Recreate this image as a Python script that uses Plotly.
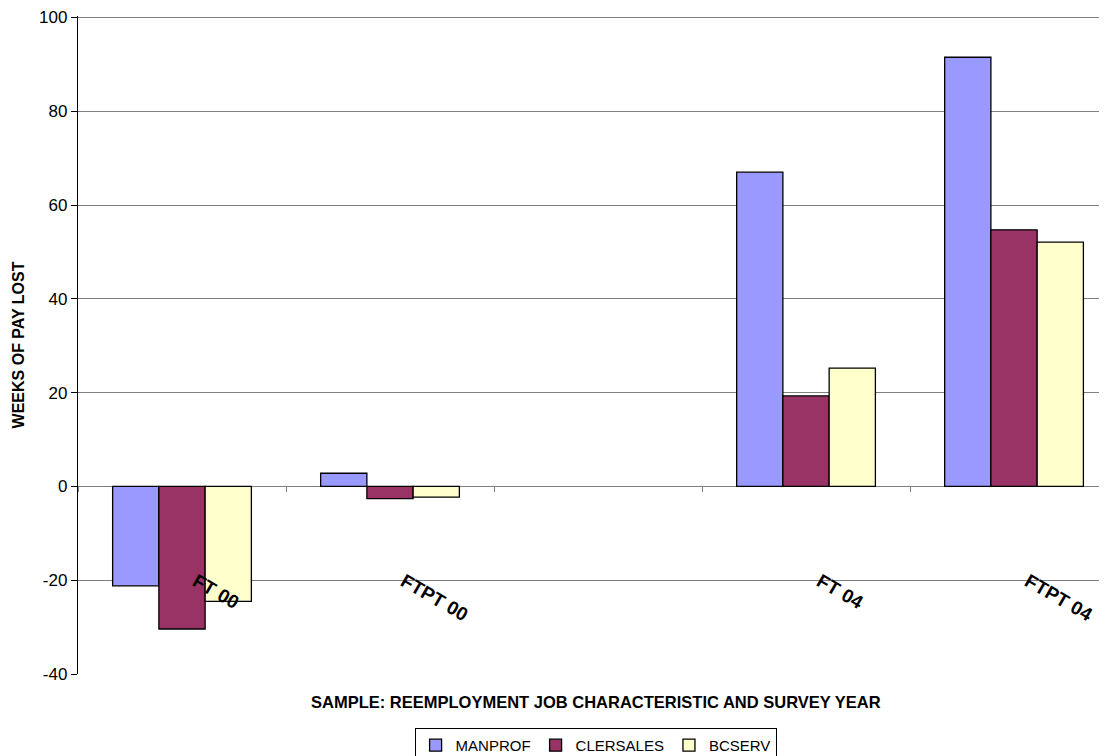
import plotly.graph_objects as go

categories = ["FT 00", "FTPT 00", " ", "FT 04", "FTPT 04"]
manprof = [-21.2, 2.8, None, 67.0, 91.5]
clersales = [-30.4, -2.6, None, 19.3, 54.7]
bcserv = [-24.5, -2.3, None, 25.2, 52.1]

series_names = ["MANPROF", "CLERSALES", "BCSERV"]
series_values = [manprof, clersales, bcserv]
series_colors = ["#9999FF", "#993366", "#FFFFCC"]

y_ticks = [-40, -20, 0, 20, 40, 60, 80, 100]
y_tick_labels = ["-40", "-20", "0", "20", "40", "60", "80", "100"]

FONT = "Liberation Sans, Arial, sans-serif"

fig = go.Figure()
for name, vals, col in zip(series_names, series_values, series_colors):
    fig.add_trace(go.Bar(
        x=categories, y=vals, name=name,
        marker=dict(color=col, line=dict(color="#000000", width=1.3)),
    ))

fig.update_layout(
    width=1099, height=748,
    margin=dict(l=70, r=0, t=8, b=82, autoexpand=False),
    paper_bgcolor="white", plot_bgcolor="white",
    barmode="group", bargap=0.333, bargroupgap=0,
    font=dict(family=FONT, color="#000000"),
    showlegend=True,
    legend=dict(
        orientation="h", x=0.503, xanchor="center", y=-0.082, yanchor="top",
        bordercolor="#000000", borderwidth=1, bgcolor="white",
        font=dict(family=FONT, size=15, color="#000000"),
        itemwidth=30, tracegroupgap=0,
    ),
    xaxis=dict(
        type="category", categoryorder="array", categoryarray=categories,
        range=[-0.5, 4.447],
        anchor="free", position=40.3 / 140.3,
        showgrid=False, zeroline=False, showline=False,
        ticks="outside", tickson="boundaries", ticklen=6, tickwidth=1,
        tickcolor="#808080",
        tickangle=30, ticklabelstandoff=81, ticklabelshift=14,
        ticklabeloverflow="allow",
        tickfont=dict(family=FONT, size=19, color="#000000", weight="bold"),
        fixedrange=True,
    ),
    yaxis=dict(
        range=[-40, 100.3], tickvals=y_ticks, ticktext=y_tick_labels,
        showgrid=True, gridcolor="#808080", gridwidth=1,
        zeroline=True, zerolinecolor="#808080", zerolinewidth=1,
        showline=True, linecolor="#000000", linewidth=1.3,
        ticks="outside", ticklen=6, tickcolor="#000000", tickwidth=1,
        ticklabeloverflow="allow",
        tickfont=dict(family=FONT, size=17, color="#000000"),
        title=dict(text="<b>WEEKS OF PAY LOST</b>", standoff=10,
                   font=dict(family=FONT, size=16, color="#000000")),
        fixedrange=True,
    ),
    annotations=[dict(
        text="<b>SAMPLE: REEMPLOYMENT JOB CHARACTERISTIC AND SURVEY YEAR</b>",
        xref="paper", yref="paper", x=0.503, y=-0.0426,
        xanchor="center", yanchor="middle", showarrow=False,
        font=dict(family=FONT, size=16.5, color="#000000"),
    )],
)

fig.write_html("out.html")
